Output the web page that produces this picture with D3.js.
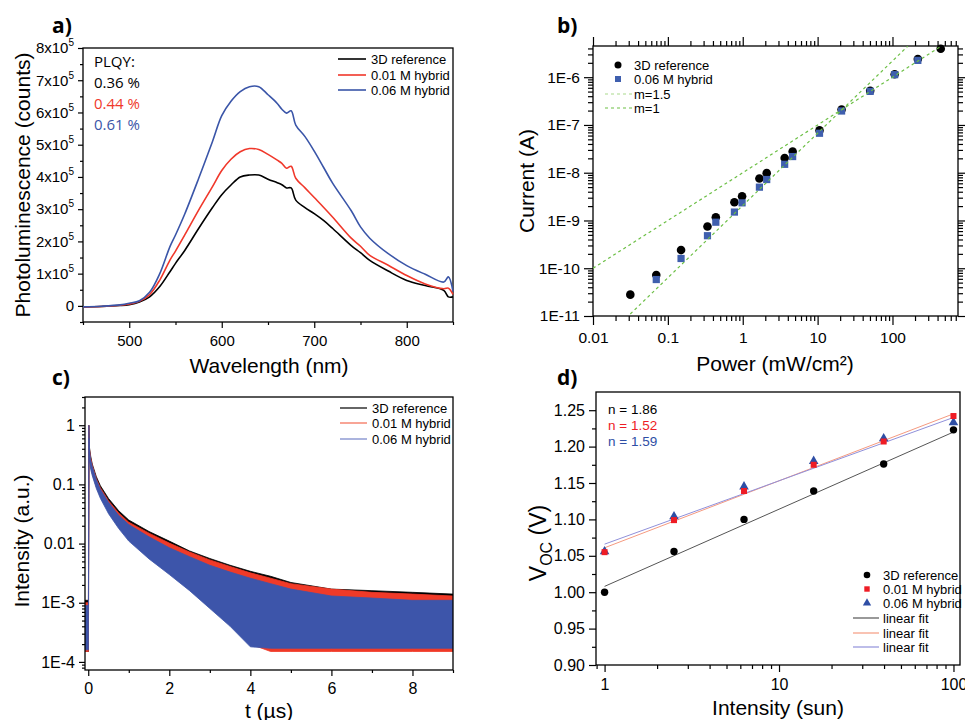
<!DOCTYPE html>
<html>
<head>
<meta charset="utf-8">
<script src="https://cdn.jsdelivr.net/npm/d3@7"></script>
<style>
body { margin: 0; background: #fff; }
text { font-family: "Liberation Sans", Arial, sans-serif; fill: #000; }
.domain { display: none; }
.tick line { stroke: #000; stroke-width: 1.2; }
</style>
</head>
<body>
<div id="chart"></div>
<script>
// ---------- a) photoluminescence (counts, in units of 1e5)
var plWave   = [450,470,490,500,511,522,533,544,550,560,575,590,600,610,620,630,640,650,660,665,670,675,680,690,700,710,720,740,750,760,780,800,820,840,845,850];
var plRef    = [-0.03,-0.02,0.01,0.04,0.12,0.28,0.6,1.06,1.32,1.72,2.4,3.05,3.45,3.75,4.0,4.06,4.06,3.93,3.82,3.76,3.66,3.66,3.28,3.05,2.86,2.65,2.4,1.87,1.65,1.41,1.08,0.79,0.63,0.48,0.28,0.28];
var plHyb01  = [-0.03,-0.02,0.02,0.06,0.14,0.35,0.8,1.42,1.7,2.2,2.97,3.7,4.2,4.55,4.78,4.88,4.85,4.7,4.52,4.42,4.27,4.33,3.96,3.66,3.36,3.06,2.75,2.1,1.85,1.57,1.26,0.94,0.68,0.53,0.55,0.36];
var plHyb06  = [-0.03,-0.01,0.03,0.08,0.16,0.42,1.0,1.84,2.2,2.85,3.95,5.1,5.9,6.35,6.65,6.8,6.8,6.55,6.28,6.1,5.98,6.05,5.61,5.25,4.8,4.3,3.8,2.95,2.45,2.1,1.62,1.25,0.98,0.74,0.9,0.45];
var plYTicks = [0,1,2,3,4,5,6,7,8];
var plXTicks = [500,600,700,800];
var plqyLabels = ['0.36 %','0.44 %','0.61 %'];
var seriesNames = ['3D reference','0.01 M hybrid','0.06 M hybrid'];

// ---------- b) current vs power
var powerRef   = [0.0315,0.07,0.15,0.338,0.437,0.774,0.98,1.67,2.09,3.63,4.64,10.6,20.9,50.4,107,218,441];
var currentRef = [2.8e-11,7.2e-11,2.4e-10,7.5e-10,1.17e-9,2.4e-9,3.2e-9,7.55e-9,9.8e-9,2.04e-8,2.77e-8,7.7e-8,2.1e-7,5.2e-7,1.15e-6,2.4e-6,3.95e-6];
var powerHyb   = [0.07,0.15,0.338,0.437,0.774,0.98,1.67,2.09,3.63,4.64,10.6,20.9,50.4,107,218];
var currentHyb = [5.8e-11,1.6e-10,4.8e-10,9.2e-10,1.5e-9,2.34e-9,4.98e-9,7.2e-9,1.5e-8,2.18e-8,6.7e-8,1.96e-7,5.05e-7,1.13e-6,2.25e-6];
var slope15Power = [0.0315,160], slope15Current = [1.1e-11,4.45e-6];
var slope1Power  = [0.01,441],   slope1Current  = [1e-10,4.4e-6];
var powerTickLabels = ['0.01','0.1','1','10','100'];

// ---------- c) TRPL decay envelopes (upper / lower edge of the noisy traces)
var trplTime  = [-0.08,-0.005,0.005,0.015,0.03,0.06,0.1,0.2,0.3,0.5,0.75,1,1.5,2,2.5,3,3.5,4,4.5,5,6,7,8,9];
var trplRefHi = [1.1e-3,1.1e-3,1.1e-3,1,0.42,0.3,0.22,0.135,0.095,0.058,0.036,0.025,0.016,0.011,0.0075,0.0056,0.0043,0.0034,0.0028,0.0022,0.0017,0.0016,0.0015,0.0014];
var trplRefLo = [1.5e-4,1.5e-4,1.5e-4,0.6,0.3,0.21,0.16,0.1,0.07,0.04,0.024,0.016,0.009,0.0058,0.0036,0.0022,0.0012,0.0004,1.6e-4,1.6e-4,1.6e-4,1.6e-4,1.6e-4,1.6e-4];
var trplH01Hi = [1e-3,1e-3,1e-3,1,0.4,0.28,0.21,0.125,0.088,0.053,0.033,0.023,0.015,0.0102,0.0072,0.0053,0.0041,0.0032,0.0026,0.0021,0.0017,0.0015,0.0014,0.0013];
var trplH01Lo = [1.5e-4,1.5e-4,1.5e-4,0.6,0.28,0.2,0.15,0.09,0.063,0.036,0.021,0.014,0.0078,0.005,0.003,0.0018,0.0008,2e-4,1.5e-4,1.5e-4,1.5e-4,1.5e-4,1.5e-4,1.5e-4];
var trplH06Hi = [9e-4,9e-4,9e-4,1,0.38,0.26,0.2,0.12,0.083,0.05,0.03,0.021,0.013,0.0085,0.006,0.0043,0.0033,0.0026,0.0021,0.0017,0.0013,0.0012,0.0011,0.0011];
var trplH06Lo = [1.6e-4,1.6e-4,1.6e-4,0.6,0.26,0.18,0.14,0.085,0.058,0.032,0.018,0.011,0.0055,0.003,0.0016,0.0008,0.0004,1.8e-4,1.7e-4,1.7e-4,1.7e-4,1.7e-4,1.7e-4,1.7e-4];
var trplXTicks = [0,2,4,6,8];
var trplYLabels = ['1E-4','1E-3','0.01','0.1','1'];

// ---------- d) Voc vs light intensity
var sunIntensity = [1,2.5,6.3,15.8,39.8,100];
var vocRef   = [1.000,1.056,1.100,1.139,1.176,1.223];
var vocHyb01 = [1.055,1.099,1.139,1.175,1.207,1.242];
var vocHyb06 = [1.056,1.104,1.145,1.180,1.211,1.233];
var fitSun = [1,100];
var fitRef = [1.008,1.220], fitHyb01 = [1.061,1.245], fitHyb06 = [1.066,1.240];
var idealityLabels = ['n = 1.86','n = 1.52','n = 1.59'];

var RED = '#f0382b', BLUE = '#3a55a8';

var svg = d3.select('#chart').append('svg').attr('width',965).attr('height',720);

function frame(x0,y0,x1,y1){
	svg.append('rect').attr('x',x0).attr('y',y0).attr('width',x1-x0).attr('height',y1-y0)
		.attr('fill','none').attr('stroke','#000').attr('stroke-width',1.3);
}
function logTicks(lo,hi){
	var maj=[],min=[];
	for (var e=Math.floor(Math.log10(lo)); e<=Math.ceil(Math.log10(hi)); e++) {
		for (var k=1;k<10;k++) {
			var v = k*Math.pow(10,e);
			if (v<lo*0.999 || v>hi*1.001) continue;
			(k===1?maj:min).push(v);
		}
	}
	return {maj:maj,min:min};
}
function axis(gen,scale,pos,vals,size,fmt,fs){
	var g = svg.append('g').attr('transform',pos)
		.call(gen(scale).tickValues(vals).tickSize(size).tickPadding(4).tickFormat(fmt||''));
	g.selectAll('text').attr('font-size',fs||15).attr('font-family','"Liberation Sans", Arial, sans-serif');
	return g;
}
function label(txt,x,y){
	svg.append('text').attr('x',x).attr('y',y).attr('font-size',21).attr('font-weight','bold')
		.style('font-family','"Open Sans", sans-serif').text(txt);
}
function title(txt,x,y,rot){
	return svg.append('text').attr('text-anchor','middle').attr('font-size',21)
		.attr('transform','translate('+x+','+y+')'+(rot?' rotate(-90)':'')).text(txt);
}

// ================= panel a
(function(){
	var x = d3.scaleLinear().domain([450,850]).range([83,453]);
	var y = d3.scaleLinear().domain([-0.5,8]).range([322,48]);
	frame(83,48,453,322);
	axis(d3.axisBottom,x,'translate(0,322)',[450,550,650,750,850],3);
	axis(d3.axisBottom,x,'translate(0,322)',plXTicks,6,d3.format('d'),15).selectAll('text').attr('dy','0.9em');
	axis(d3.axisLeft,y,'translate(83,0)',[-0.5,0.5,1.5,2.5,3.5,4.5,5.5,6.5,7.5],3);
	var ya = axis(d3.axisLeft,y,'translate(83,0)',plYTicks,5,function(d){return d;},15);
	ya.selectAll('.tick text').text(null).each(function(d){
		var t = d3.select(this);
		if (d===0) { t.text('0'); return; }
		t.append('tspan').text(d+'x10');
		t.append('tspan').attr('dy',-7).attr('font-size',10).text('5');
	});
	var line = d3.line().curve(d3.curveCatmullRom.alpha(0.5))
		.x(function(d,i){return x(plWave[i]);}).y(function(d){return y(d);});
	[[plRef,'#000'],[plHyb01,RED],[plHyb06,BLUE]].forEach(function(s){
		svg.append('path').datum(s[0]).attr('d',line).attr('fill','none').attr('stroke',s[1]).attr('stroke-width',1.6);
	});
	// legend
	var cols = ['#000',RED,BLUE], rows = [59,75,90];
	seriesNames.forEach(function(n,i){
		svg.append('line').attr('x1',338).attr('x2',366).attr('y1',rows[i]).attr('y2',rows[i]).attr('stroke',cols[i]).attr('stroke-width',1.6);
		svg.append('text').attr('x',371).attr('y',rows[i]+4.5).attr('font-size',13).text(n);
	});
	var pq = svg.append('g');
	pq.append('text').attr('x',94).attr('y',67).attr('font-size',15).style('font-family','"Open Sans", sans-serif').text('PLQY:');
	plqyLabels.forEach(function(t,i){
		pq.append('text').attr('x',94).attr('y',88+i*21).attr('font-size',15).style('font-family','"Open Sans", sans-serif')
			.style('fill',cols[i]).text(t);
	});
	title('Photoluminescence (counts)',30,185,true);
	title('Wavelength (nm)',269,373);
	label('a)',52,33);
})();

// ================= panel b
(function(){
	var x = d3.scaleLog().domain([0.01,750]).range([593,958]);
	var y = d3.scaleLog().domain([1e-11,4.5e-6]).range([316,46]);
	var xt = logTicks(0.01,750), yt = logTicks(1e-11,4.5e-6);
	frame(593,46,958,316);
	axis(d3.axisBottom,x,'translate(0,316)',xt.min,5);
	axis(d3.axisBottom,x,'translate(0,316)',xt.maj,9,function(d,i){return powerTickLabels[i];},15.5).selectAll('text').attr('dy','0.9em');
	axis(d3.axisTop,x,'translate(0,46)',xt.min,5);
	axis(d3.axisTop,x,'translate(0,46)',xt.maj,9);
	axis(d3.axisLeft,y,'translate(593,0)',yt.min,5);
	axis(d3.axisLeft,y,'translate(593,0)',yt.maj,9,function(d){return '1E'+Math.round(Math.log10(d));},15.5);
	axis(d3.axisRight,y,'translate(958,0)',yt.min,5);
	axis(d3.axisRight,y,'translate(958,0)',yt.maj,9);

	svg.append('clipPath').attr('id','clipb').append('rect').attr('x',593).attr('y',46).attr('width',365).attr('height',270);
	svg.selectAll('.ptRef').data(powerRef).enter().append('circle')
		.attr('cx',function(d){return x(d);}).attr('cy',function(d,i){return y(currentRef[i]);})
		.attr('r',4.3).attr('fill','#000');
	svg.selectAll('.ptHyb').data(powerHyb).enter().append('rect')
		.attr('x',function(d){return x(d)-3.6;}).attr('y',function(d,i){return y(currentHyb[i])-3.6;})
		.attr('width',7.2).attr('height',7.2).attr('fill','#3f5fae');
	var fits = [[slope15Power,slope15Current],[slope1Power,slope1Current]];
	fits.forEach(function(f){
		svg.append('line').attr('clip-path','url(#clipb)')
			.attr('x1',x(f[0][0])).attr('y1',y(f[1][0])).attr('x2',x(f[0][1])).attr('y2',y(f[1][1]))
			.attr('stroke','#6cbf45').attr('stroke-width',1.2).attr('stroke-dasharray','3,3');
	});
	// legend
	var rows = [65,79,94,108];
	svg.append('circle').attr('cx',618).attr('cy',rows[0]).attr('r',3.5).attr('fill','#000');
	svg.append('rect').attr('x',615).attr('y',rows[1]-3).attr('width',6).attr('height',6).attr('fill','#3f5fae');
	svg.append('line').attr('x1',605).attr('x2',632).attr('y1',rows[2]).attr('y2',rows[2]).attr('stroke','#a9da8c').attr('stroke-width',1.2).attr('stroke-dasharray','3,3');
	svg.append('line').attr('x1',605).attr('x2',632).attr('y1',rows[3]).attr('y2',rows[3]).attr('stroke','#6cbf45').attr('stroke-width',1.2).attr('stroke-dasharray','3,3');
	['3D reference','0.06 M hybrid','m=1.5','m=1'].forEach(function(n,i){
		svg.append('text').attr('x',634).attr('y',rows[i]+4.5).attr('font-size',13).text(n);
	});
	title('Current (A)',534,181,true);
	title('Power (mW/cm\u00b2)',775,371);
	label('b)',557,33);
})();

// ================= panel c
(function(){
	var x = d3.scaleLinear().domain([-0.08,9]).range([85,453]);
	var y = d3.scaleLog().domain([7.3e-5,3]).range([670,397]);
	var yt = logTicks(7.3e-5,3);
	svg.append('clipPath').attr('id','clipc').append('rect').attr('x',85).attr('y',397).attr('width',368).attr('height',273);
	var bands = [[trplRefHi,trplRefLo,'#000'],[trplH01Hi,trplH01Lo,'#f03a28'],[trplH06Hi,trplH06Lo,'#3d55aa']];
	bands.forEach(function(b){
		var area = d3.area().x(function(d,i){return x(trplTime[i]);})
			.y0(function(d,i){return y(b[1][i]);}).y1(function(d){return y(d);});
		svg.append('path').datum(b[0]).attr('clip-path','url(#clipc)').attr('d',area)
			.attr('fill',b[2]).attr('stroke',b[2]).attr('stroke-width',0.8);
	});
	frame(85,397,453,670);
	axis(d3.axisBottom,x,'translate(0,670)',[1,3,5,7,9],3);
	axis(d3.axisBottom,x,'translate(0,670)',trplXTicks,6,d3.format('d'),16).selectAll('text').attr('dy','0.9em');
	axis(d3.axisLeft,y,'translate(85,0)',yt.min,3);
	axis(d3.axisLeft,y,'translate(85,0)',yt.maj,6,function(d,i){return trplYLabels[i];},16);
	// legend
	var cols = ['#000','#f36a50','#7382c8'], rows = [408,423,439];
	seriesNames.forEach(function(n,i){
		svg.append('line').attr('x1',340).attr('x2',367).attr('y1',rows[i]).attr('y2',rows[i]).attr('stroke',cols[i]).attr('stroke-width',1.2);
		svg.append('text').attr('x',372).attr('y',rows[i]+4.5).attr('font-size',13).text(n);
	});
	title('Intensity (a.u.)',29,541,true);
	title('t (\u00b5s)',269,718);
	label('c)',52,385);
})();

// ================= panel d
(function(){
	var x = d3.scaleLog().domain([0.893,109]).range([596,960]);
	var y = d3.scaleLinear().domain([0.9,1.275]).range([665,392]);
	var xt = logTicks(0.893,109);
	frame(596,392,960,665);
	axis(d3.axisBottom,x,'translate(0,665)',xt.min,4);
	axis(d3.axisBottom,x,'translate(0,665)',xt.maj,7,d3.format('d'),16).selectAll('text').attr('dy','0.9em');
	axis(d3.axisLeft,y,'translate(596,0)',d3.range(0.925,1.27,0.05),4);
	axis(d3.axisLeft,y,'translate(596,0)',d3.range(0.9,1.26,0.05),7,d3.format('.2f'),16);

	var fits = [[fitRef,'#555'],[fitHyb01,'#f59a80'],[fitHyb06,'#9090da']];
	fits.forEach(function(f){
		svg.append('line').attr('x1',x(fitSun[0])).attr('y1',y(f[0][0])).attr('x2',x(fitSun[1])).attr('y2',y(f[0][1]))
			.attr('stroke',f[1]).attr('stroke-width',1);
	});
	var tri = d3.symbol().type(d3.symbolTriangle).size(40);
	svg.selectAll('.dRef').data(vocRef).enter().append('circle')
		.attr('cx',function(d,i){return x(sunIntensity[i]);}).attr('cy',function(d){return y(d);}).attr('r',3.7).attr('fill','#000');
	svg.selectAll('.dH06').data(vocHyb06).enter().append('path').attr('d',tri)
		.attr('transform',function(d,i){return 'translate('+x(sunIntensity[i])+','+y(d)+')';}).attr('fill','#2e4ea5');
	svg.selectAll('.dH01').data(vocHyb01).enter().append('rect')
		.attr('x',function(d,i){return x(sunIntensity[i])-3;}).attr('y',function(d){return y(d)-3;})
		.attr('width',6).attr('height',6).attr('fill','#ee1c25');
	// n labels
	var cols = ['#000','#ee1c25','#2e4ea5'];
	idealityLabels.forEach(function(t,i){
		svg.append('text').attr('x',608).attr('y',414+i*16).attr('font-size',13.5).style('fill',cols[i]).text(t);
	});
	// legend
	var rows = [575,589,603,618,633,647], lx = 867;
	svg.append('circle').attr('cx',lx).attr('cy',rows[0]).attr('r',3.3).attr('fill','#000');
	svg.append('rect').attr('x',lx-2.7).attr('y',rows[1]-2.7).attr('width',5.4).attr('height',5.4).attr('fill','#ee1c25');
	svg.append('path').attr('d',d3.symbol().type(d3.symbolTriangle).size(30)).attr('transform','translate('+lx+','+rows[2]+')').attr('fill','#2e4ea5');
	fits.forEach(function(f,i){
		svg.append('line').attr('x1',853).attr('x2',879).attr('y1',rows[3+i]).attr('y2',rows[3+i]).attr('stroke',f[1]).attr('stroke-width',1.2);
	});
	['3D reference','0.01 M hybrid','0.06 M hybrid','linear fit','linear fit','linear fit'].forEach(function(n,i){
		svg.append('text').attr('x',883).attr('y',rows[i]+4.5).attr('font-size',13).text(n);
	});
	var vt = svg.append('text').attr('text-anchor','middle').attr('font-size',23)
		.attr('transform','translate(546,543) rotate(-90)');
	vt.append('tspan').text('V');
	vt.append('tspan').attr('dy',6).attr('font-size',16).text('OC');
	vt.append('tspan').attr('dy',-6).text(' (V)');
	title('Intensity (sun)',778,715);
	label('d)',557,385);
})();
</script>
</body>
</html>
